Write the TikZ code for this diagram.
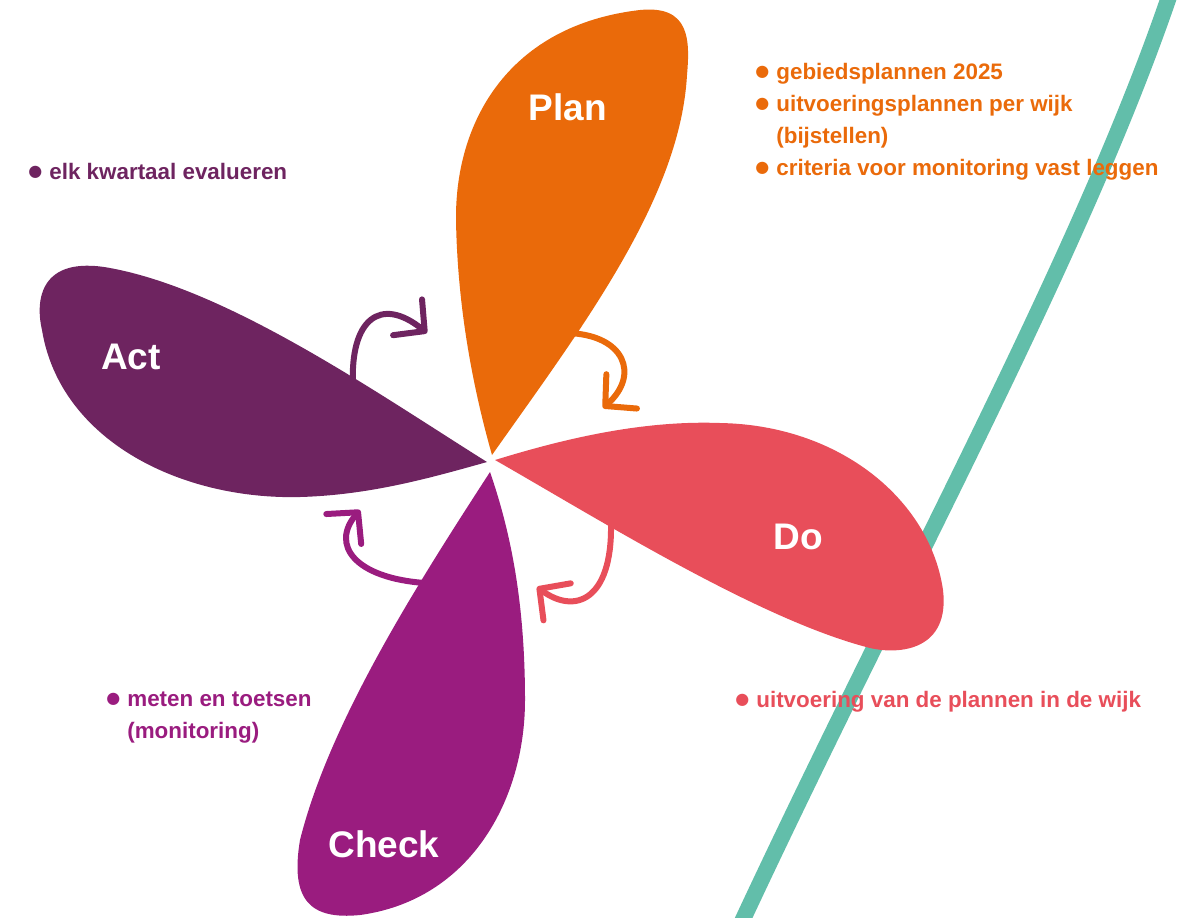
\documentclass[tikz,border=0pt]{standalone}
\usepackage{fontspec}
\setmainfont{Liberation Sans}
\newfontfamily\dotfont{DejaVu Sans}
\newcommand{\stip}{\raisebox{1.3pt}{\dotfont\fontsize{8}{16}\selectfont ●}}
\usetikzlibrary{arrows.meta}
\definecolor{planc}{RGB}{234,106,10}
\definecolor{doc}{RGB}{232,78,90}
\definecolor{checkc}{RGB}{154,28,127}
\definecolor{actc}{RGB}{110,36,96}
\definecolor{lijnc}{RGB}{98,190,170}
\tikzset{
  petal/.style={font=\fontsize{18.5}{22}\selectfont\bfseries, text=white, inner sep=0},
  bullets/.style={font=\fontsize{11.2}{16}\selectfont\bfseries, anchor=base west, inner sep=0},
  turn/.style={line width=3pt, line cap=round, -{Straight Barb[length=11pt,width=23pt,line cap=round,line join=round]}},
}
\begin{document}
\begin{tikzpicture}[x=0.5pt,y=-0.5pt]
\useasboundingbox (0,0) rectangle (1192,917);
\draw[lijnc, line width=8pt] (1172,-12) .. controls (1082,255) and (902,578) .. (738,930);
\coordinate (act-out) at (353,385);   \coordinate (plan-in) at (427,333);
\coordinate (plan-out) at (568,333);  \coordinate (do-in) at (603,408);
\coordinate (do-out) at (611,525);    \coordinate (check-in) at (537,587);
\coordinate (check-out) at (425,583); \coordinate (act-in) at (360,510);
\draw[turn, actc] (act-out) .. controls (350,320) and (380,295) .. (plan-in);
\draw[turn, planc] (plan-out) .. controls (625,335) and (640,375) .. (do-in);
\draw[turn, doc] (do-out) .. controls (612,600) and (575,615) .. (check-in);
\draw[turn, checkc] (check-out) .. controls (355,578) and (330,545) .. (act-in);
\fill[planc] (492,455) .. controls (465,360) and (457,280) .. (456,220) .. controls (455,120) and (510,25) .. (640,10)
  .. controls (690,5) and (690,40) .. (687,75) .. controls (680,200) and (580,330) .. cycle;
\fill[doc] (495,460) .. controls (560,440) and (640,420) .. (720,423) .. controls (840,425) and (930,500) .. (943,590)
  .. controls (950,650) and (900,655) .. (870,648) .. controls (760,620) and (600,520) .. cycle;
\fill[actc] (487,462) .. controls (380,395) and (230,290) .. (110,268) .. controls (40,255) and (35,300) .. (42,330)
  .. controls (60,440) and (180,500) .. (300,497) .. controls (370,495) and (430,478) .. cycle;
\fill[checkc] (490,472) .. controls (420,580) and (330,720) .. (300,840) .. controls (290,900) and (310,920) .. (360,915)
  .. controls (470,900) and (525,800) .. (525,700) .. controls (525,600) and (510,530) .. cycle;
\node[petal] (plan) at (568,107) {Plan};
\node[petal] (do) at (798,537) {Do};
\node[petal] (act) at (131,357) {Act};
\node[petal] (check) at (384,844) {Check};
\node[bullets, text=planc] (planlijst) at (755,79) {\begin{tabular}[t]{@{}l@{\hspace{3.5pt}}l@{}}
  \stip & gebiedsplannen 2025\\ \stip & uitvoeringsplannen per wijk\\ & (bijstellen)\\
  \stip & criteria voor monitoring vast leggen\end{tabular}};
\node[bullets, text=actc] (actlijst) at (28,179) {\begin{tabular}[t]{@{}l@{\hspace{3.5pt}}l@{}}
  \stip & elk kwartaal evalueren\end{tabular}};
\node[bullets, text=checkc] (checklijst) at (106,706) {\begin{tabular}[t]{@{}l@{\hspace{3.5pt}}l@{}}
  \stip & meten en toetsen\\ & (monitoring)\end{tabular}};
\node[bullets, text=doc] (dolijst) at (735,707) {\begin{tabular}[t]{@{}l@{\hspace{3.5pt}}l@{}}
  \stip & uitvoering van de plannen in de wijk\end{tabular}};
\end{tikzpicture}
\end{document}
